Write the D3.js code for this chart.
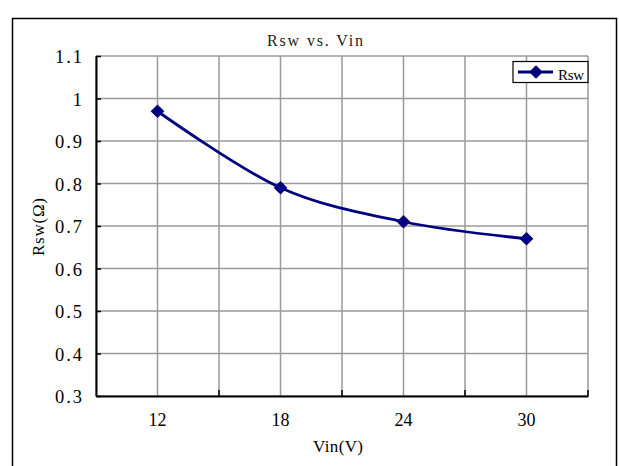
<!DOCTYPE html>
<html><head><meta charset="utf-8">
<script src="https://cdn.jsdelivr.net/npm/d3@7"></script>
<style>body{margin:0;background:#fff}svg{display:block}</style>
</head><body>
<svg id="c" width="619" height="466"></svg>
<script>
const categories = ["12", "18", "24", "30"];
const rswValues = [0.97, 0.79, 0.71, 0.67];
const yTicks = [0.3, 0.4, 0.5, 0.6, 0.7, 0.8, 0.9, 1.0, 1.1];
const yTickLabels = ["0.3", "0.4", "0.5", "0.6", "0.7", "0.8", "0.9", "1", "1.1"];
const seriesName = "Rsw";
const titleText = "Rsw vs. Vin";
const xTitle = "Vin(V)";
const yTitle = "Rsw(Ω)";

const svg = d3.select("#c");
const L = 96, R = 588, T = 56, B = 396;
const font = "'Liberation Serif', 'DejaVu Serif', serif";
const navy = "#000080";

const x = d3.scaleBand().domain(categories).range([L, R]).padding(0);
const y = d3.scaleLinear().domain([0.3, 1.1]).range([B, T]);

// outer frame
svg.append("rect").attr("x", 12.5).attr("y", 18.5).attr("width", 604).attr("height", 470)
  .attr("fill", "none").attr("stroke", "#000").attr("stroke-width", 1.5);

// gridlines
const grid = svg.append("g").attr("stroke", "#9a9a9a").attr("stroke-width", 1.5);
yTicks.forEach(v => {
  grid.append("line").attr("x1", L).attr("x2", R).attr("y1", y(v)).attr("y2", y(v));
});
const vx = [];
categories.forEach(c => { vx.push(x(c)); vx.push(x(c) + x.bandwidth() / 2); });
vx.push(R);
vx.forEach(px => {
  grid.append("line").attr("x1", px).attr("x2", px).attr("y1", T).attr("y2", B);
});

// axes
const yAxis = d3.axisLeft(y).tickValues(yTicks).tickSizeInner(-5).tickSizeOuter(0)
  .tickFormat((d, i) => yTickLabels[i]);
const gy = svg.append("g").attr("transform", `translate(${L},0)`).call(yAxis);
gy.select(".domain").attr("stroke", "#000").attr("stroke-width", 2);
gy.selectAll(".tick line").attr("stroke", "#000").attr("stroke-width", 1.5);
gy.selectAll(".tick text").attr("x", -14).attr("dy", "0.36em")
  .attr("font-family", font).attr("font-size", 18.5).attr("fill", "#000")
  .attr("textLength", (d, i) => yTickLabels[i].length * 9)
  .attr("lengthAdjust", "spacing");

const xAxis = d3.axisBottom(x).tickSizeInner(0).tickSizeOuter(0);
const gx = svg.append("g").attr("transform", `translate(0,${B})`).call(xAxis);
gx.select(".domain").attr("stroke", "#000").attr("stroke-width", 2);
gx.selectAll(".tick text").attr("y", 17).attr("dy", "0.71em")
  .attr("font-family", font).attr("font-size", 18).attr("fill", "#000");
// x boundary ticks (inward)
categories.forEach(c => {
  const px = x(c) + x.bandwidth();
  svg.append("line").attr("x1", px).attr("x2", px).attr("y1", B).attr("y2", B - 6)
    .attr("stroke", "#000").attr("stroke-width", 1.5);
});

// series line
const line = d3.line().x((d, i) => x(categories[i]) + x.bandwidth() / 2).y(d => y(d))
  .curve(d3.curveCardinal.tension(0));
svg.append("path").datum(rswValues).attr("d", line)
  .attr("fill", "none").attr("stroke", navy).attr("stroke-width", 2.8);

const diamond = d3.symbol().type(d3.symbolDiamond2).size(120);
svg.append("g").selectAll("path.m").data(rswValues).join("path")
  .attr("transform", (d, i) => `translate(${x(categories[i]) + x.bandwidth() / 2},${y(d)})`)
  .attr("d", diamond).attr("fill", navy);

// title
svg.append("text").attr("x", 315).attr("y", 46).attr("text-anchor", "middle")
  .attr("font-family", font).attr("font-size", 16).attr("fill", "#222")
  .attr("textLength", 96).attr("lengthAdjust", "spacing").text(titleText);

// axis titles
svg.append("text").attr("x", 338).attr("y", 452).attr("text-anchor", "middle")
  .attr("font-family", font).attr("font-size", 17).attr("fill", "#000")
  .attr("textLength", 50).attr("lengthAdjust", "spacing").text(xTitle);
svg.append("text").attr("transform", "translate(44,227) rotate(-90)").attr("text-anchor", "middle")
  .attr("font-family", font).attr("font-size", 17).attr("fill", "#000")
  .attr("textLength", 58).attr("lengthAdjust", "spacing").text(yTitle);

// legend
const lg = svg.append("g");
lg.append("rect").attr("x", 513).attr("y", 61.5).attr("width", 75).attr("height", 21)
  .attr("fill", "#fff").attr("stroke", "#000").attr("stroke-width", 1.2);
lg.append("line").attr("x1", 518).attr("x2", 553).attr("y1", 72).attr("y2", 72)
  .attr("stroke", navy).attr("stroke-width", 2.8);
lg.append("path").attr("transform", "translate(536,72)").attr("d", diamond).attr("fill", navy);
lg.append("text").attr("x", 558).attr("y", 79.5)
  .attr("font-family", font).attr("font-size", 15).attr("fill", "#000")
  .attr("textLength", 26).attr("lengthAdjust", "spacing").text(seriesName);
</script>
</body></html>
